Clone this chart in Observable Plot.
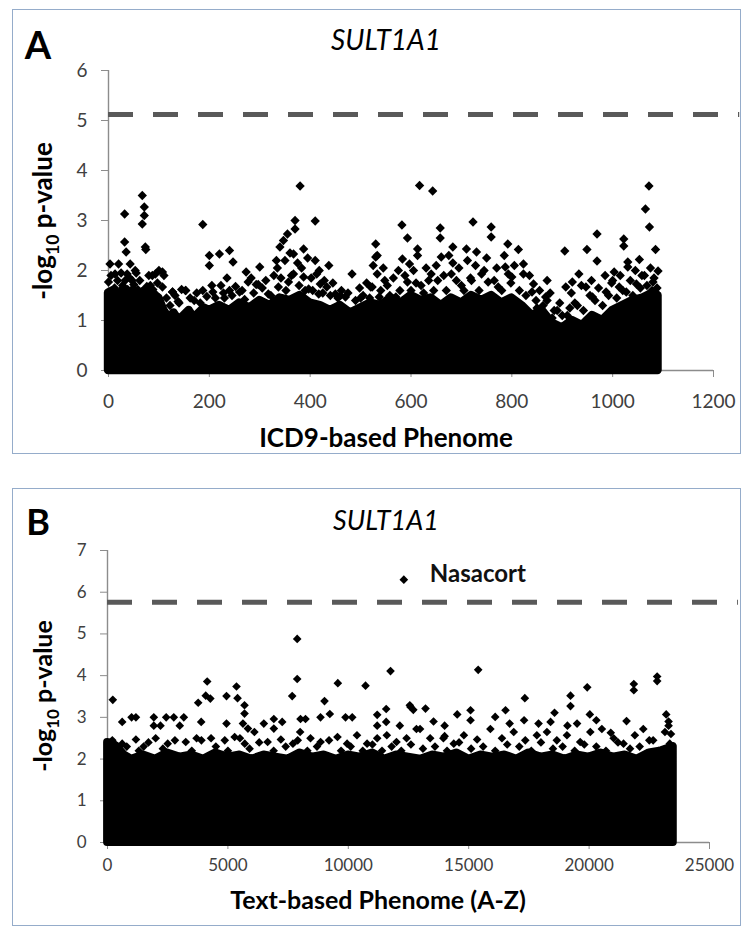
<!DOCTYPE html>
<html><head><meta charset="utf-8">
<script src="https://cdn.jsdelivr.net/npm/d3@7"></script>
<script src="https://cdn.jsdelivr.net/npm/@observablehq/plot@0.6"></script>
<style>
html,body{margin:0;padding:0;background:#fff}
body{width:747px;height:931px;position:relative;overflow:hidden;font-family:Lato,"Open Sans",sans-serif}
.box{position:absolute;border:1.5px solid #95acca;box-sizing:border-box}
.panel{position:absolute}
</style></head><body>
<div class="box" style="left:12px;top:9px;width:729px;height:445px"></div>
<div class="panel" id="pa" style="left:12px;top:9px"></div>
<div class="box" style="left:12px;top:488px;width:729px;height:438px"></div>
<div class="panel" id="pb" style="left:12px;top:488px"></div>
<script>
// ---------- Panel A : ICD9-based phenome ----------
const icd9Ticks = [0, 200, 400, 600, 800, 1000, 1200];
const icd9YTicks = [0, 1, 2, 3, 4, 5, 6];
const icd9Threshold = 5.12;
// upper edge of the solid mass of points
const icd9EnvX = [0,0,10,20,30,40,50,60,70,80,90,100,110,120,130,140,150,160,170,180,190,200,220,240,260,280,300,320,340,360,380,400,420,440,460,480,500,520,540,560,580,600,620,640,660,680,700,720,740,760,780,800,820,840,860,880,900,920,940,960,980,1000,1020,1040,1060,1080,1090,1090];
const icd9EnvY = [0,1.55,1.6,1.5,1.62,1.55,1.6,1.5,1.58,1.62,1.5,1.45,1.2,1.05,1.15,1.0,1.1,1.2,1.05,1.15,1.25,1.2,1.3,1.2,1.35,1.25,1.4,1.3,1.45,1.4,1.5,1.35,1.3,1.2,1.3,1.15,1.25,1.35,1.3,1.45,1.35,1.5,1.4,1.45,1.3,1.45,1.35,1.5,1.4,1.5,1.35,1.45,1.3,1.1,1.2,0.95,0.85,1.0,0.9,1.1,1.0,1.2,1.3,1.4,1.45,1.55,1.5,0];
// individual visible points
const icd9X = [32,67,71,71,67,73,74,32,35,187,380,370,370,410,355,347,340,3,0,20,43,200,220,240,247,200,273,300,333,410,437,483,387,367,530,530,533,93,107,153,127,293,413,420,
617,643,1072,1065,1073,1085,582,723,658,658,759,759,593,533,613,613,969,1022,1022,905,949,969,1053,1030,1030,1090,792,813,683,710,730,583,597,683,660,1003,870,843,823,793,
8,32,45,67,83,93,107,127,153,187,207,223,240,260,277,297,317,337,357,367,387,397,417,433,450,470,523,537,13,37,53,33,47,87,110,
520,553,570,593,620,640,653,680,700,720,740,753,773,787,800,823,840,867,907,920,933,947,960,987,1000,1013,1027,1047,1063,1080,1087,
850,870,890,910,925,880,140,170,230,460,500,
5,12,18,25,28,38,42,50,55,58,62,76,80,88,97,100,
115,122,132,138,145,162,175,182,195,
205,212,228,235,245,252,265,270,283,288,305,312,322,328,
335,342,350,352,360,363,375,378,383,390,395,402,405,418,425,428,
440,445,455,462,475,490,498,505,512,518,525,
540,545,548,558,565,575,578,588,600,605,610,625,630,635,
645,650,665,670,675,690,695,705,712,718,728,735,745,750,765,770,780,785,798,805,815,
828,835,848,855,862,876,884,895,900,915,918,930,938,942,955,958,
965,972,980,985,992,998,1008,1015,1020,1035,1040,1045,1055,1058,1068,1075,1078,1082,1088];
const icd9Y = [3.13,3.5,3.27,3.1,2.93,2.47,2.42,2.57,2.37,2.92,3.69,3.0,2.83,2.99,2.73,2.6,2.47,2.13,1.77,2.13,2.13,2.3,2.33,2.4,2.17,2.1,1.97,2.07,2.2,2.2,2.1,1.93,2.43,2.33,2.53,2.27,1.93,1.93,1.97,1.6,1.57,1.72,1.93,1.73,
3.7,3.59,3.69,3.23,2.87,2.42,2.91,2.97,2.85,2.65,2.87,2.67,2.65,2.3,2.43,2.3,2.73,2.63,2.49,2.39,2.42,2.19,2.22,2.17,2.07,1.99,2.53,2.42,2.47,2.43,2.37,2.23,2.13,2.15,2.27,1.97,1.8,1.73,2.13,1.93,
1.57,1.53,1.6,1.5,1.7,1.53,1.67,1.57,1.6,1.6,1.57,1.7,1.6,1.57,1.77,1.72,1.53,1.67,1.77,1.93,1.87,1.63,1.53,1.67,1.53,1.47,1.67,1.47,1.93,1.93,2.0,1.8,1.8,1.9,1.9,
1.67,1.7,1.47,1.77,1.7,1.93,1.8,1.93,1.7,1.8,1.93,1.77,1.67,2.07,1.87,1.93,1.57,1.47,1.67,1.77,1.93,1.67,1.47,1.57,1.8,1.67,1.57,1.73,1.9,1.77,1.53,
1.25,1.4,1.2,1.1,1.35,1.05,1.35,1.4,1.45,1.5,1.45,
1.9,1.65,1.8,1.95,1.7,1.62,1.85,1.72,1.95,1.62,1.8,1.68,1.9,1.62,1.75,2.0,
1.45,1.3,1.5,1.38,1.62,1.45,1.55,1.35,1.48,
1.7,1.45,1.55,1.85,1.5,1.68,1.6,1.42,1.85,1.55,1.65,1.8,1.5,1.9,
2.05,1.85,2.2,1.6,2.35,1.9,2.15,1.7,2.05,1.6,2.25,1.85,1.6,2.0,1.55,1.8,
1.5,1.75,1.45,1.6,1.55,1.4,1.65,1.5,1.75,1.45,2.1,
1.6,2.05,1.8,1.5,1.85,2.0,1.6,1.9,1.6,2.0,1.75,1.55,2.05,1.8,
1.6,2.1,1.9,1.6,2.3,1.8,2.05,1.6,2.2,1.85,2.1,1.6,2.0,2.25,1.8,2.05,1.6,2.3,1.75,2.1,1.6,
1.5,1.9,1.4,1.6,1.3,1.55,1.2,1.35,1.1,1.25,1.55,1.3,1.7,1.2,1.5,1.8,
1.4,1.65,1.3,1.9,1.5,1.75,1.45,1.9,1.6,1.8,1.5,2.0,1.65,1.9,1.7,2.05,1.6,1.85,1.65];

// ---------- Panel B : text-based phenome ----------
const textTicks = [0, 5000, 10000, 15000, 20000, 25000];
const textYTicks = [0, 1, 2, 3, 4, 5, 6, 7];
const textThreshold = 5.76;
const textEnvX = [0,0,200,400,700,1000,1500,2000,2500,3000,3500,4000,4500,5000,5500,6000,6500,7000,7500,8000,8500,9000,9500,10000,10500,11000,11500,12000,12500,13000,13500,14000,14500,15000,15500,16000,16500,17000,17500,18000,18500,19000,19500,20000,20500,21000,21500,22000,22500,23000,23500,23500];
const textEnvY = [0,2.4,2.38,2.3,2.1,2.0,2.1,2.0,2.15,2.05,2.1,2.0,2.15,2.05,2.1,2.0,2.1,2.05,2.0,2.15,2.05,2.1,2.0,2.1,2.05,2.15,2.0,2.1,2.05,2.0,2.1,2.05,2.15,2.0,2.1,2.05,2.1,2.0,2.15,2.05,2.1,2.0,2.1,2.05,2.15,2.05,2.1,2.0,2.15,2.2,2.3,0];
const textX = [12306,7878,7878,7670,220,4140,4080,4270,3766,5357,4942,5400,5690,5690,610,1000,1180,1923,2437,2753,3169,1923,2200,3000,3891,4942,5625,5832,6492,6907,7255,6907,8015,8223,8846,9232,9012,9565,9884,10163,10715,11200,11200,11574,11574,11753,12555,12700,12140,
15394,17331,19228,19228,19922,21857,21857,22826,22826,14523,15076,15076,16529,16100,18564,20030,21554,23202,23300,12584,13206,13540,14000,14000,16700,17300,17900,18400,19100,19500,20300,20900,
200,610,1180,1500,2000,2500,3250,3900,4300,4870,5280,5700,6100,6650,7200,7700,8000,8430,8850,9550,9950,10360,10780,11200,11600,12000,12420,12830,
12980,13400,13950,14380,14800,15350,15900,16380,16870,17350,17830,18250,18660,19080,19630,20050,20530,21020,21430,21900,22250,22660,23150,23350,
100,450,800,1300,1700,2300,2800,3500,3700,4500,5000,5500,5900,6300,6900,7400,7900,8300,8700,9200,9700,10100,10600,11000,11400,11800,12200,12600,13100,13600,14100,14600,15100,15600,16100,16600,17100,17600,18000,18500,18900,19400,19800,20300,20700,21200,21700,22100,22500,22900,23400,23300];
const textY = [6.3,4.88,3.92,3.51,3.42,3.86,3.52,3.45,3.35,3.74,3.51,3.46,3.29,3.09,2.89,3.0,3.0,3.0,3.0,3.0,3.0,2.8,2.8,2.8,2.89,2.85,2.85,2.73,2.85,2.96,2.89,2.73,2.96,2.96,3.0,3.08,3.39,3.82,3.0,3.0,3.76,3.06,2.8,3.2,2.89,4.11,3.29,3.18,2.8,
4.14,3.46,3.52,3.27,3.72,3.8,3.65,3.98,3.87,3.07,3.17,2.93,3.17,3.01,3.11,3.07,2.91,3.07,2.9,3.25,3.21,2.9,2.8,2.55,2.85,2.93,2.85,2.89,2.8,2.85,2.93,2.63,
2.45,2.37,2.47,2.3,2.5,2.37,2.41,2.45,2.5,2.45,2.53,2.37,2.65,2.41,2.47,2.37,2.65,2.5,2.41,2.53,2.37,2.57,2.37,2.5,2.57,2.41,2.5,2.72,
2.72,2.5,2.5,2.37,2.57,2.47,2.72,2.5,2.65,2.45,2.57,2.65,2.45,2.57,2.41,2.65,2.72,2.5,2.37,2.57,2.72,2.45,2.65,2.37,
2.35,2.2,2.3,2.2,2.4,2.25,2.45,2.2,2.5,2.3,2.2,2.5,2.25,2.4,2.2,2.3,2.45,2.2,2.3,2.45,2.2,2.3,2.2,2.35,2.2,2.3,2.2,2.35,2.25,2.3,2.2,2.4,2.25,2.3,2.2,2.35,2.3,2.2,2.4,2.25,2.3,2.2,2.35,2.3,2.2,2.4,2.25,2.3,2.45,2.2,2.6,2.8];
const textAnnotation = [{x: 12306, y: 6.3, label: "Nasacort"}];

const FONT = 'Lato, "Open Sans", sans-serif';

function panel(o) {
  const env = o.envX.map((x, i) => ({x, y: o.envY[i]}));
  const pts = o.ptX.map((x, i) => ({x, y: o.ptY[i]}));
  const marks = [
    Plot.ruleY([0], {x1: 0, x2: o.xDomain[1], stroke: "#8c8c8c", strokeWidth: 1.4}),
    Plot.ruleX([0], {y1: 0, y2: o.yDomain[1], stroke: "#8c8c8c", strokeWidth: 1.4}),
    Plot.axisX({ticks: o.xTicks, tickSize: 7, tickPadding: o.xPad, stroke: "#8c8c8c", fill: "#404040", fontSize: o.tickFont, label: null, tickFormat: d => String(d)}),
    Plot.axisY({ticks: o.yTicks, tickSize: 7, tickPadding: 14, stroke: "#8c8c8c", fill: "#404040", fontSize: o.tickFont, label: null, tickFormat: d => String(d)}),
    Plot.areaY(env, {x: "x", y: "y", fill: "black", stroke: "black", strokeWidth: o.r * 2, strokeLinejoin: "round"}),
    Plot.dot(pts, {x: "x", y: "y", symbol: "diamond2", r: o.r, fill: "black", stroke: "none"}),
    Plot.ruleY([o.threshold], {x1: 0, x2: o.dashEnd, stroke: "#595959", strokeWidth: 5, strokeDasharray: "25 20"})
  ];
  if (o.annot) marks.push(Plot.text(o.annot, {x: "x", y: "y", text: "label", dx: 26, dy: -5, textAnchor: "start", fontSize: o.annotFont, fontWeight: "bold", fill: "#111"}));
  const svg = Plot.plot({
    width: o.W, height: o.H,
    marginLeft: o.mL, marginRight: o.W - o.xRight, marginTop: o.mT, marginBottom: o.H - o.yBottom,
    x: {domain: o.xDomain, axis: null},
    y: {domain: o.yDomain, axis: null},
    style: {fontFamily: FONT, background: "transparent", overflow: "visible", color: "#404040"},
    marks
  });
  const s = d3.select(svg);
  s.append("text").attr("x", o.letterX).attr("y", o.letterY).attr("font-size", o.letterFont).attr("font-weight", "bold").attr("fill", "#000").attr("font-family", FONT).text(o.letter);
  s.append("text").attr("x", o.titleX).attr("y", o.titleY).attr("text-anchor", "middle").attr("font-size", o.titleFont).attr("font-style", "italic").attr("fill", "#000").attr("font-family", FONT).text("SULT1A1");
  s.append("text").attr("x", o.xLabX).attr("y", o.xLabY).attr("text-anchor", "middle").attr("font-size", o.labFont).attr("font-weight", "bold").attr("fill", "#000").attr("font-family", FONT).text(o.xLabel);
  const fs = o.labFont;
  const t = s.append("text").attr("transform", `translate(${o.yLabX},${o.yLabY}) rotate(-90)`).attr("text-anchor", "middle").attr("font-size", fs).attr("font-weight", "bold").attr("fill", "#000").attr("font-family", FONT);
  t.append("tspan").text("-log");
  t.append("tspan").attr("font-size", fs * 0.68).attr("dy", fs * 0.28).text("10");
  t.append("tspan").attr("dy", -fs * 0.28).text(" p-value");
  document.getElementById(o.el).appendChild(svg);
}

panel({
  el: "pa", W: 729, H: 445, mL: 96, xRight: 701, mT: 61, yBottom: 361,
  xDomain: [0, 1200], yDomain: [0, 6], xTicks: icd9Ticks, yTicks: icd9YTicks,
  envX: icd9EnvX, envY: icd9EnvY, ptX: icd9X, ptY: icd9Y, r: 4.2,
  threshold: icd9Threshold, dashEnd: 1252, tickFont: 19, xPad: 17,
  letter: "A", letterX: 26, letterY: 50, letterFont: 38,
  titleX: 374, titleY: 41, titleFont: 28,
  xLabel: "ICD9-based Phenome", xLabX: 374, xLabY: 438, labFont: 26,
  yLabX: 40, yLabY: 212
});

panel({
  el: "pb", W: 729, H: 438, mL: 95, xRight: 697, mT: 62, yBottom: 354,
  xDomain: [0, 25000], yDomain: [0, 7], xTicks: textTicks, yTicks: textYTicks,
  envX: textEnvX, envY: textEnvY, ptX: textX, ptY: textY, r: 3.9,
  threshold: textThreshold, dashEnd: 26200, tickFont: 17, xPad: 9,
  annot: textAnnotation, annotFont: 24,
  letter: "B", letterX: 26, letterY: 47, letterFont: 36,
  titleX: 374, titleY: 42, titleFont: 27,
  xLabel: "Text-based Phenome (A-Z)", xLabX: 366, xLabY: 421, labFont: 25,
  yLabX: 40, yLabY: 208
});
</script>
</body></html>
